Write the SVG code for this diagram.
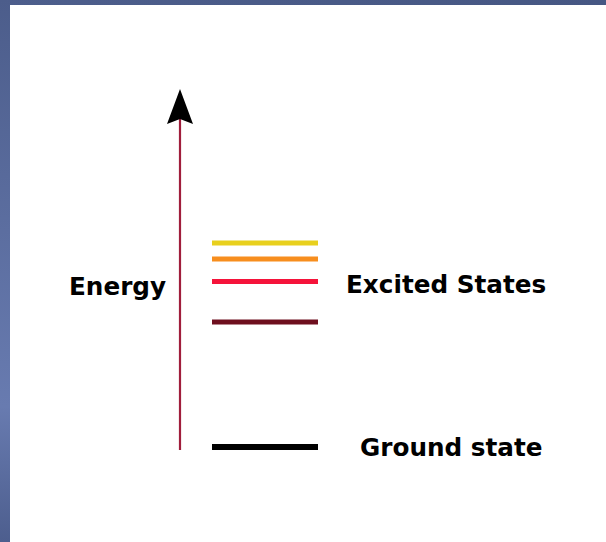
<svg xmlns="http://www.w3.org/2000/svg" width="606" height="542" viewBox="0 0 606 542">
<defs>
<linearGradient id="bg" x1="0" y1="0" x2="1" y2="1">
<stop offset="0" stop-color="#4d5e8c"/>
<stop offset="0.5" stop-color="#465783"/>
<stop offset="1" stop-color="#3f4f77"/>
</linearGradient>
<linearGradient id="lstrip" x1="0" y1="0" x2="0" y2="1">
<stop offset="0" stop-color="#4c5d8b"/>
<stop offset="0.75" stop-color="#687bb0"/>
<stop offset="1" stop-color="#4d5e8e"/>
</linearGradient>
<style>
.lbl{font-family:"DejaVu Sans",sans-serif;font-weight:bold;font-size:24.7px;fill:#000}
.lvl{stroke-width:5;fill:none}
</style>
</defs>
<rect x="0" y="0" width="606" height="542" fill="url(#bg)"/>
<rect x="0" y="0" width="10" height="542" fill="url(#lstrip)"/>
<rect x="10" y="5" width="596" height="537" fill="#ffffff"/>
<g id="connectors">
<line x1="180" y1="450" x2="180" y2="118" stroke="#a01e3c" stroke-width="2.2"/>
<path d="M180,89 L193,124 L180,119 L167,124 Z" fill="#000"/>
</g>
<g id="energy"><text class="lbl" x="69" y="295">Energy</text></g>
<g id="level-yellow"><line class="lvl" x1="212" y1="243" x2="318" y2="243" stroke="#e8d01e"/></g>
<g id="level-orange"><line class="lvl" x1="212" y1="259" x2="318" y2="259" stroke="#f78e1e"/></g>
<g id="level-red"><line class="lvl" x1="212" y1="281.5" x2="318" y2="281.5" stroke="#f5133a"/></g>
<g id="level-darkred"><line class="lvl" x1="212" y1="322" x2="318" y2="322" stroke="#6e0f1e"/></g>
<g id="excited"><text class="lbl" x="346" y="293">Excited States</text></g>
<g id="ground-level"><line x1="212" y1="447" x2="318" y2="447" stroke="#000" stroke-width="6"/></g>
<g id="ground"><text class="lbl" x="360" y="456">Ground state</text></g>
</svg>
